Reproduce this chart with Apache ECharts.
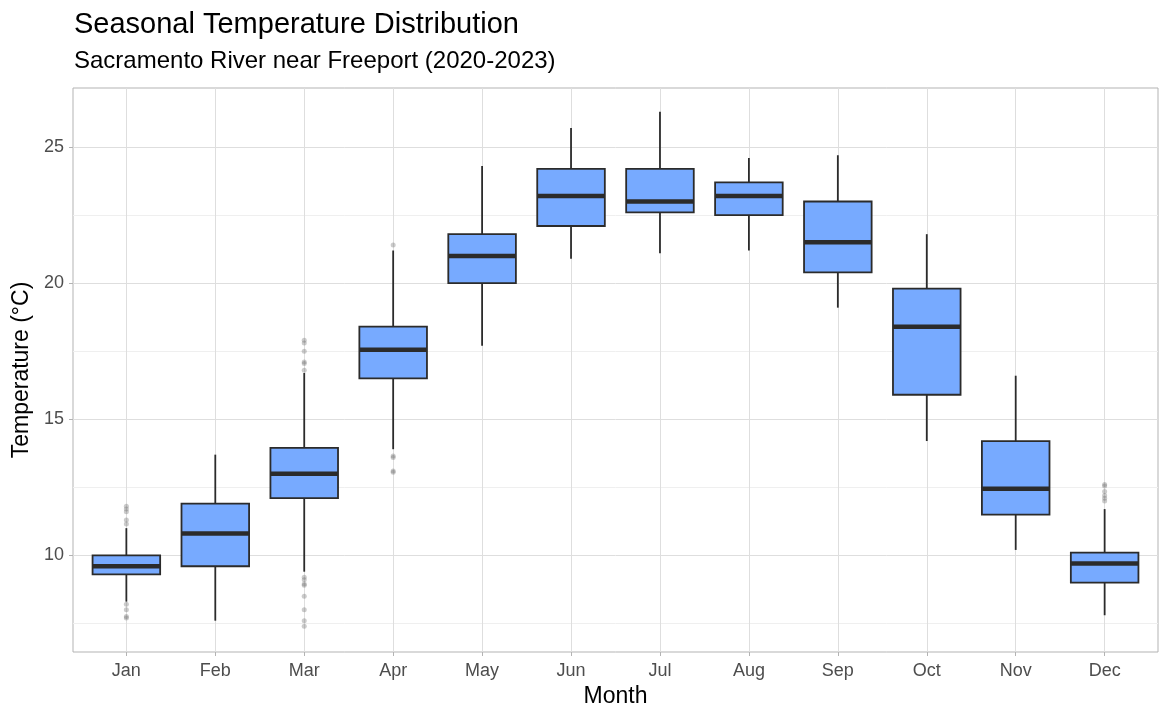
<!DOCTYPE html>
<html>
<head>
<meta charset="utf-8">
<script src="https://cdn.jsdelivr.net/npm/echarts@6/dist/echarts.min.js"></script>
<style>
  html, body { margin: 0; padding: 0; background: #fff; }
  #chart { width: 1169px; height: 723px; }
</style>
</head>
<body>
<div id="chart"></div>
<script>
const months = ["Jan", "Feb", "Mar", "Apr", "May", "Jun", "Jul", "Aug", "Sep", "Oct", "Nov", "Dec"];

// [low whisker, Q1, median, Q3, high whisker] per month
const boxStats = [
  [8.3, 9.3, 9.6, 10.0, 11.0],
  [7.6, 9.6, 10.8, 11.9, 13.7],
  [9.4, 12.1, 13.0, 13.95, 16.7],
  [13.9, 16.5, 17.55, 18.4, 21.2],
  [17.7, 20.0, 21.0, 21.8, 24.3],
  [20.9, 22.1, 23.2, 24.2, 25.7],
  [21.1, 22.6, 23.0, 24.2, 26.3],
  [21.2, 22.5, 23.2, 23.7, 24.6],
  [19.1, 20.4, 21.5, 23.0, 24.7],
  [14.2, 15.9, 18.4, 19.8, 21.8],
  [10.2, 11.5, 12.45, 14.2, 16.6],
  [7.8, 9.0, 9.7, 10.1, 11.7]
];

// outlier points: month index (1-based), temperature
const outlierMonth = [1, 1, 1, 1, 1, 1, 1, 1, 1,
  3, 3, 3, 3, 3, 3, 3, 3, 3, 3, 3, 3, 3, 3,
  4, 4, 4, 4, 4,
  12, 12, 12, 12, 12, 12];
const outlierTemp = [11.8, 11.7, 11.6, 11.3, 11.15, 8.2, 8.0, 7.75, 7.7,
  17.9, 17.8, 17.5, 17.1, 17.05, 16.8, 9.2, 9.1, 8.95, 8.9, 8.5, 8.0, 7.6, 7.4,
  21.4, 13.65, 13.6, 13.1, 13.05,
  12.6, 12.55, 12.35, 12.2, 12.1, 12.0];

const yMajor = [10, 15, 20, 25];
const yMinor = [7.5, 12.5, 17.5, 22.5];
const xTicks = [1, 2, 3, 4, 5, 6, 7, 8, 9, 10, 11, 12];

const FONT = "'Liberation Sans', Arial, Helvetica, sans-serif";
const BOX_FRAC = 0.76;  // box width as share of one month
const EDGE = "#2b2b2b";

const chart = echarts.init(document.getElementById("chart"));

const boxData = boxStats.map((s, i) => [i + 1].concat(s));
const outlierData = outlierTemp.map((t, i) => [outlierMonth[i], t]);

function renderBox(params, api) {
  const x = api.value(0);
  const lo = api.coord([x, api.value(1)]);
  const q1 = api.coord([x, api.value(2)]);
  const med = api.coord([x, api.value(3)]);
  const q3 = api.coord([x, api.value(4)]);
  const hi = api.coord([x, api.value(5)]);
  const half = api.size([1, 0])[0] * BOX_FRAC / 2;
  const cx = q1[0];
  const line = { stroke: EDGE, lineWidth: 1.8 };
  return {
    type: "group",
    children: [
      { type: "line", shape: { x1: cx, y1: hi[1], x2: cx, y2: q3[1] }, style: line },
      { type: "line", shape: { x1: cx, y1: q1[1], x2: cx, y2: lo[1] }, style: line },
      { type: "rect", shape: { x: cx - half, y: q3[1], width: half * 2, height: q1[1] - q3[1] },
        style: { fill: "#77aaff", stroke: EDGE, lineWidth: 1.8 } },
      { type: "line", shape: { x1: cx - half, y1: med[1], x2: cx + half, y2: med[1] },
        style: { stroke: EDGE, lineWidth: 4.5 } }
    ]
  };
}

chart.setOption({
  animation: false,
  textStyle: { fontFamily: FONT },
  title: {
    text: "Seasonal Temperature Distribution",
    subtext: "Sacramento River near Freeport (2020-2023)",
    left: 69,
    top: 5,
    itemGap: 10,
    textStyle: { fontFamily: FONT, fontSize: 29, fontWeight: "normal", color: "#000" },
    subtextStyle: { fontFamily: FONT, fontSize: 24, color: "#000" }
  },
  grid: {
    left: 73,
    right: 11,
    top: 88,
    bottom: 71,
    show: true,
    borderColor: "#b3b3b3",
    borderWidth: 1,
    backgroundColor: "transparent"
  },
  xAxis: {
    type: "value",
    min: 0.4,
    max: 12.6,
    name: "Month",
    nameLocation: "middle",
    nameGap: 33,
    nameTextStyle: { fontFamily: FONT, fontSize: 23, color: "#000" },
    axisLine: { show: false },
    axisTick: { show: true, length: 4, customValues: xTicks, lineStyle: { color: "#b3b3b3" } },
    axisLabel: {
      customValues: xTicks,
      margin: 10,
      fontSize: 18,
      color: "#4d4d4d",
      formatter: v => months[Math.round(v) - 1]
    },
    splitLine: { show: true, lineStyle: { color: "#dedede", width: 1 } }
  },
  yAxis: [{
    type: "value",
    min: 6.45,
    max: 27.17,
    name: "Temperature (°C)",
    nameLocation: "middle",
    nameGap: 40,
    nameTextStyle: { fontFamily: FONT, fontSize: 23, color: "#000" },
    axisLine: { show: false },
    axisTick: { show: true, length: 4, customValues: yMajor, lineStyle: { color: "#b3b3b3" } },
    axisLabel: { customValues: yMajor, margin: 9, fontSize: 18, color: "#4d4d4d" },
    splitLine: { show: true, lineStyle: { color: "#dedede", width: 1 } }
  }, {
    type: "value",
    min: 6.45,
    max: 27.17,
    position: "left",
    axisLine: { show: false },
    axisTick: { show: false, customValues: yMinor },
    axisLabel: { show: false, customValues: yMinor },
    splitLine: { show: true, lineStyle: { color: "#efefef", width: 1 } }
  }],
  series: [{
    type: "custom",
    data: boxData,
    encode: { x: 0, y: [1, 2, 3, 4, 5] },
    renderItem: renderBox,
    z: 3
  }, {
    type: "scatter",
    data: outlierData,
    symbolSize: 5,
    itemStyle: { color: "rgba(110,110,110,0.45)" },
    z: 5
  }]
});
</script>
</body>
</html>
